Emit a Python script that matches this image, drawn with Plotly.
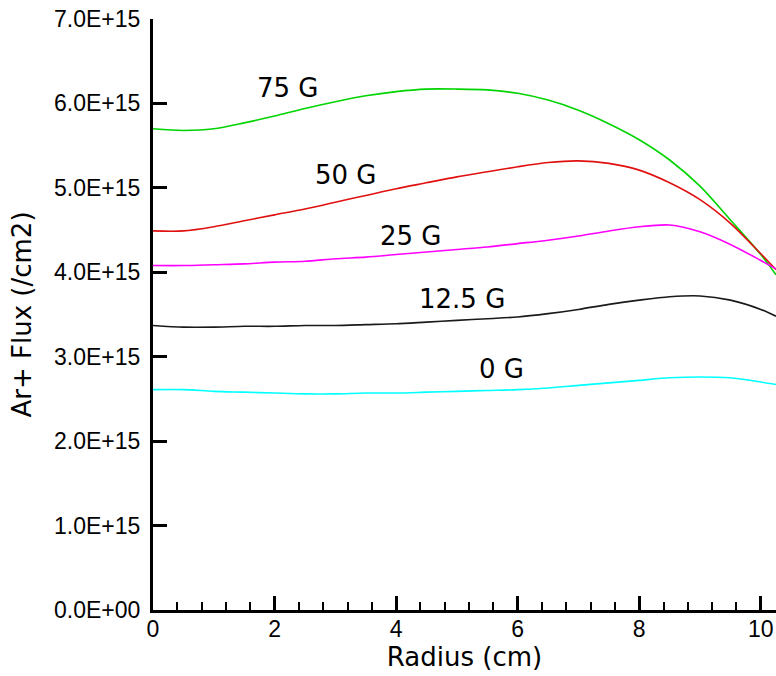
import plotly.graph_objects as go

radius = [0, 0.5, 1.0, 1.5, 2.0, 2.5, 3.0, 3.5, 4.0, 4.5, 5.0, 5.5, 6.0, 6.5,
          7.0, 7.5, 8.0, 8.5, 9.0, 9.5, 10.0, 10.25]

flux_75G = [5.70, 5.68, 5.70, 5.77, 5.85, 5.94, 6.02, 6.09, 6.14, 6.17, 6.17,
            6.16, 6.12, 6.04, 5.92, 5.76, 5.57, 5.33, 5.02, 4.62, 4.21, 3.97]
flux_50G = [4.49, 4.49, 4.54, 4.61, 4.68, 4.75, 4.83, 4.91, 4.99, 5.06, 5.13,
            5.19, 5.25, 5.30, 5.32, 5.29, 5.21, 5.06, 4.86, 4.58, 4.22, 4.03]
flux_25G = [4.08, 4.08, 4.09, 4.10, 4.12, 4.13, 4.16, 4.18, 4.21, 4.24, 4.27,
            4.30, 4.34, 4.38, 4.43, 4.49, 4.54, 4.56, 4.48, 4.33, 4.14, 4.04]
flux_12_5G = [3.37, 3.35, 3.35, 3.36, 3.36, 3.37, 3.37, 3.38, 3.39, 3.41, 3.43,
              3.45, 3.47, 3.51, 3.56, 3.62, 3.67, 3.71, 3.72, 3.67, 3.56, 3.48]
flux_0G = [2.61, 2.61, 2.59, 2.58, 2.57, 2.56, 2.56, 2.57, 2.57, 2.58, 2.59,
           2.60, 2.61, 2.63, 2.66, 2.69, 2.72, 2.75, 2.76, 2.75, 2.70, 2.67]

series_names = ["75 G", "50 G", "25 G", "12.5 G", "0 G"]
series_values = [flux_75G, flux_50G, flux_25G, flux_12_5G, flux_0G]
series_colors = ["#00d400", "#e01010", "#ff00ff", "#1a1a1a", "#00ffff"]
label_x = [2.22, 3.18, 4.24, 5.08, 5.74]
label_y = [6.18, 5.15, 4.43, 3.68, 2.86]

y_tickvals = [0, 1, 2, 3, 4, 5, 6, 7]
y_ticktext = ["0.0E+00", "1.0E+15", "2.0E+15", "3.0E+15", "4.0E+15",
              "5.0E+15", "6.0E+15", "7.0E+15"]
SCALE = 1e15

fig = go.Figure()
for name, vals, col in zip(series_names, series_values, series_colors):
    fig.add_trace(go.Scatter(
        x=radius, y=[v * SCALE for v in vals], mode="lines", name=name,
        line=dict(color=col, width=1.6, shape="spline", smoothing=0.8),
        showlegend=False))

for name, lx, ly in zip(series_names, label_x, label_y):
    fig.add_annotation(x=lx, y=ly * SCALE, text=name, showarrow=False,
                       xanchor="center", yanchor="middle",
                       font=dict(family="DejaVu Sans", size=26, color="black"))

fig.update_layout(
    width=776, height=676,
    margin=dict(l=153, r=0, t=19, b=66),
    paper_bgcolor="white", plot_bgcolor="white",
    font=dict(family="Liberation Sans, Arial", color="black"),
)
fig.update_xaxes(
    range=[0, 10.25], showgrid=False, zeroline=False,
    showline=True, linecolor="black", linewidth=3,
    ticks="inside", ticklen=14, tickwidth=3, tickcolor="black",
    tickmode="linear", tick0=0, dtick=2,
    tickfont=dict(family="Liberation Sans, Arial", size=23),
    ticklabelstandoff=-4, ticklabeloverflow="allow",
    minor=dict(ticks="inside", ticklen=8, tickwidth=2, tickcolor="black",
               tick0=0, dtick=0.4, showgrid=False),
    title=dict(text="Radius (cm)", standoff=3,
               font=dict(family="DejaVu Sans", size=26)),
)
fig.update_yaxes(
    range=[0, 7 * SCALE], showgrid=False, zeroline=False,
    showline=True, linecolor="black", linewidth=3,
    ticks="inside", ticklen=14, tickwidth=3, tickcolor="black",
    tickmode="array", tickvals=[v * SCALE for v in y_tickvals],
    ticktext=y_ticktext,
    tickfont=dict(family="Liberation Sans, Arial", size=23),
    ticklabelstandoff=5, ticklabeloverflow="allow",
    title=dict(text="Ar+ Flux (/cm2)", standoff=15,
               font=dict(family="DejaVu Sans", size=26)),
)

fig.write_html(
    "out.html",
    config={"displayModeBar": False},
    post_script="document.body.style.margin='0';"
                "document.body.style.overflow='hidden';",
)
